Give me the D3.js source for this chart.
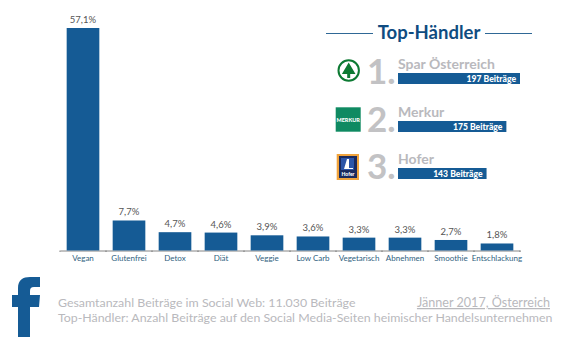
<!DOCTYPE html>
<html>
<head>
<meta charset="utf-8">
<script src="https://cdn.jsdelivr.net/npm/d3@7"></script>
<style>
  html, body { margin: 0; padding: 0; background: #fff; }
  svg { display: block; font-family: Lato, "Open Sans", sans-serif; }
</style>
</head>
<body>
<div id="chart"></div>
<script>
const categories = ["Vegan", "Glutenfrei", "Detox", "Diät", "Veggie", "Low Carb", "Vegetarisch", "Abnehmen", "Smoothie", "Entschlackung"];
const shares = [57.1, 7.7, 4.7, 4.6, 3.9, 3.6, 3.3, 3.3, 2.7, 1.8];

const retailers = ["Spar Österreich", "Merkur", "Hofer"];
const retailerPosts = [197, 175, 143];

const blue = "#155b95";
const grey = "#b9b9bd";
const darkBlue = "#0f4c81";

const svg = d3.select("#chart").append("svg")
    .attr("width", 566)
    .attr("height", 352);

// main bar chart
const x = d3.scaleBand()
    .domain(categories)
    .range([60, 520])
    .paddingInner(0.29)
    .paddingOuter(0.145);
const y = d3.scaleLinear()
    .domain([0, 57.1])
    .range([250.5, 28]);

const axis = svg.append("g")
    .attr("transform", "translate(0,250.5)")
    .call(d3.axisBottom(x).tickSize(0).tickPadding(5));
axis.select(".domain").attr("stroke", "#666").attr("stroke-width", 0.8);
axis.selectAll(".tick text")
    .attr("fill", "#2f5f80")
    .style("font-size", "8px")
    .style("font-family", "Lato");

// small ticks sit between the bars, not under them
const tickScale = d3.scaleLinear()
    .domain([0, categories.length])
    .range([60, 520]);
axis.selectAll(".sep")
    .data(d3.range(categories.length + 1))
    .enter().append("line")
    .attr("class", "sep")
    .attr("x1", d => tickScale(d))
    .attr("x2", d => tickScale(d))
    .attr("y1", 0)
    .attr("y2", 1.5)
    .attr("stroke", "#666")
    .attr("stroke-width", 0.8);

svg.selectAll(".bar")
    .data(categories)
    .enter().append("rect")
    .attr("class", "bar")
    .attr("x", d => x(d))
    .attr("y", (d, i) => y(shares[i]))
    .attr("width", x.bandwidth())
    .attr("height", (d, i) => y(0) - y(shares[i]))
    .attr("fill", blue);

svg.selectAll(".pct")
    .data(categories)
    .enter().append("text")
    .attr("class", "pct")
    .attr("x", d => x(d) + x.bandwidth() / 2)
    .attr("y", (d, i) => y(shares[i]) - 5)
    .attr("text-anchor", "middle")
    .attr("fill", "#555")
    .style("font-size", "9.5px")
    .text((d, i) => String(shares[i]).replace(".", ",") + "%");

// retailer panel
svg.append("text")
    .attr("x", 429).attr("y", 39)
    .attr("text-anchor", "middle")
    .attr("fill", darkBlue)
    .style("font-size", "18.5px")
    .style("font-weight", "700")
    .text("Top-Händler");
[[326, 373], [485, 532]].forEach(d => {
    svg.append("line")
        .attr("x1", d[0]).attr("x2", d[1])
        .attr("y1", 33.5).attr("y2", 33.5)
        .attr("stroke", "#2f6896").attr("stroke-width", 1);
});

const postScale = d3.scaleLinear()
    .domain([0, 197])
    .range([0, 122]);
const rowY = d3.scaleOrdinal()
    .domain(retailers)
    .range([73, 121, 168]);

const rows = svg.selectAll(".retailer")
    .data(retailers)
    .enter().append("g")
    .attr("class", "retailer")
    .attr("transform", d => "translate(0," + rowY(d) + ")");

rows.append("text")
    .attr("x", 398).attr("y", -4)
    .attr("fill", grey)
    .style("font-size", "14px")
    .style("font-weight", "700")
    .text(d => d);
rows.append("rect")
    .attr("x", 398).attr("y", 0)
    .attr("width", (d, i) => postScale(retailerPosts[i]))
    .attr("height", 11)
    .attr("fill", blue);
rows.append("text")
    .attr("x", (d, i) => 398 + postScale(retailerPosts[i]) - 4)
    .attr("y", 8.8)
    .attr("text-anchor", "end")
    .attr("fill", "#fff")
    .style("font-size", "8.6px")
    .style("font-weight", "900")
    .text((d, i) => retailerPosts[i] + " Beiträge");
rows.append("text")
    .attr("x", 367).attr("y", 11)
    .attr("fill", "#c2c2c4")
    .style("font-size", "35px")
    .style("font-weight", "700")
    .text((d, i) => (i + 1) + ".");

// logos
const spar = svg.append("g").attr("transform", "translate(348.7,70.5)");
spar.append("circle").attr("r", 10.2).attr("fill", "#fff").attr("stroke", "#0d7a33").attr("stroke-width", 2);
spar.append("path").attr("d", "M0,-8 L6.8,3.5 L1.5,3.5 L1.5,7.5 L-1.5,7.5 L-1.5,3.5 L-6.8,3.5 Z").attr("fill", "#0d7a33");

svg.append("rect").attr("x", 335.7).attr("y", 107.3).attr("width", 25).attr("height", 24.4).attr("fill", "#0f8a62");
svg.append("text").attr("x", 348.2).attr("y", 121.5).attr("text-anchor", "middle")
    .attr("fill", "#fff").style("font-size", "5.5px").style("font-weight", "900").text("MERKUR");

svg.append("rect").attr("x", 336.7).attr("y", 154).attr("width", 22.3).attr("height", 26).attr("fill", "#f0a33c");
svg.append("rect").attr("x", 339).attr("y", 156).attr("width", 18).attr("height", 22).attr("fill", "#1b2a5e");
svg.append("rect").attr("x", 341).attr("y", 158).attr("width", 13).attr("height", 12).attr("fill", "#2c55a8");
svg.append("path").attr("d", "M347,159 L349,159 L349,168 L353,168 L353,169 L344,169 Z").attr("fill", "#fff");
svg.append("text").attr("x", 348).attr("y", 176).attr("text-anchor", "middle")
    .attr("fill", "#fff").style("font-size", "5px").style("font-weight", "900").text("Hofer");

// facebook f
svg.append("path")
    .attr("d", "M18,337 L18,307 L12,307 L12,295 L18,295 L18,288 C18,280 23,277 30,277 L40,277 L40,287 L34,287 C31,287 30,288.5 30,291 L30,295 L40,295 L39,307 L30,307 L30,337 Z")
    .attr("fill", blue);

// footer
const footer = [
    ["Gesamtanzahl Beiträge im Social Web: 11.030 Beiträge", 58, 307],
    ["Top-Händler: Anzahl Beiträge auf den Social Media-Seiten heimischer Handelsunternehmen", 58, 322]
];
svg.selectAll(".foot")
    .data(footer)
    .enter().append("text")
    .attr("class", "foot")
    .attr("x", d => d[1])
    .attr("y", d => d[2])
    .attr("fill", grey)
    .style("font-size", "12.37px")
    .text(d => d[0]);
svg.append("text")
    .attr("x", 550).attr("y", 307)
    .attr("text-anchor", "end")
    .attr("fill", grey)
    .style("font-size", "12.6px")
    .style("text-decoration", "underline")
    .text("Jänner 2017, Österreich");
</script>
</body>
</html>
